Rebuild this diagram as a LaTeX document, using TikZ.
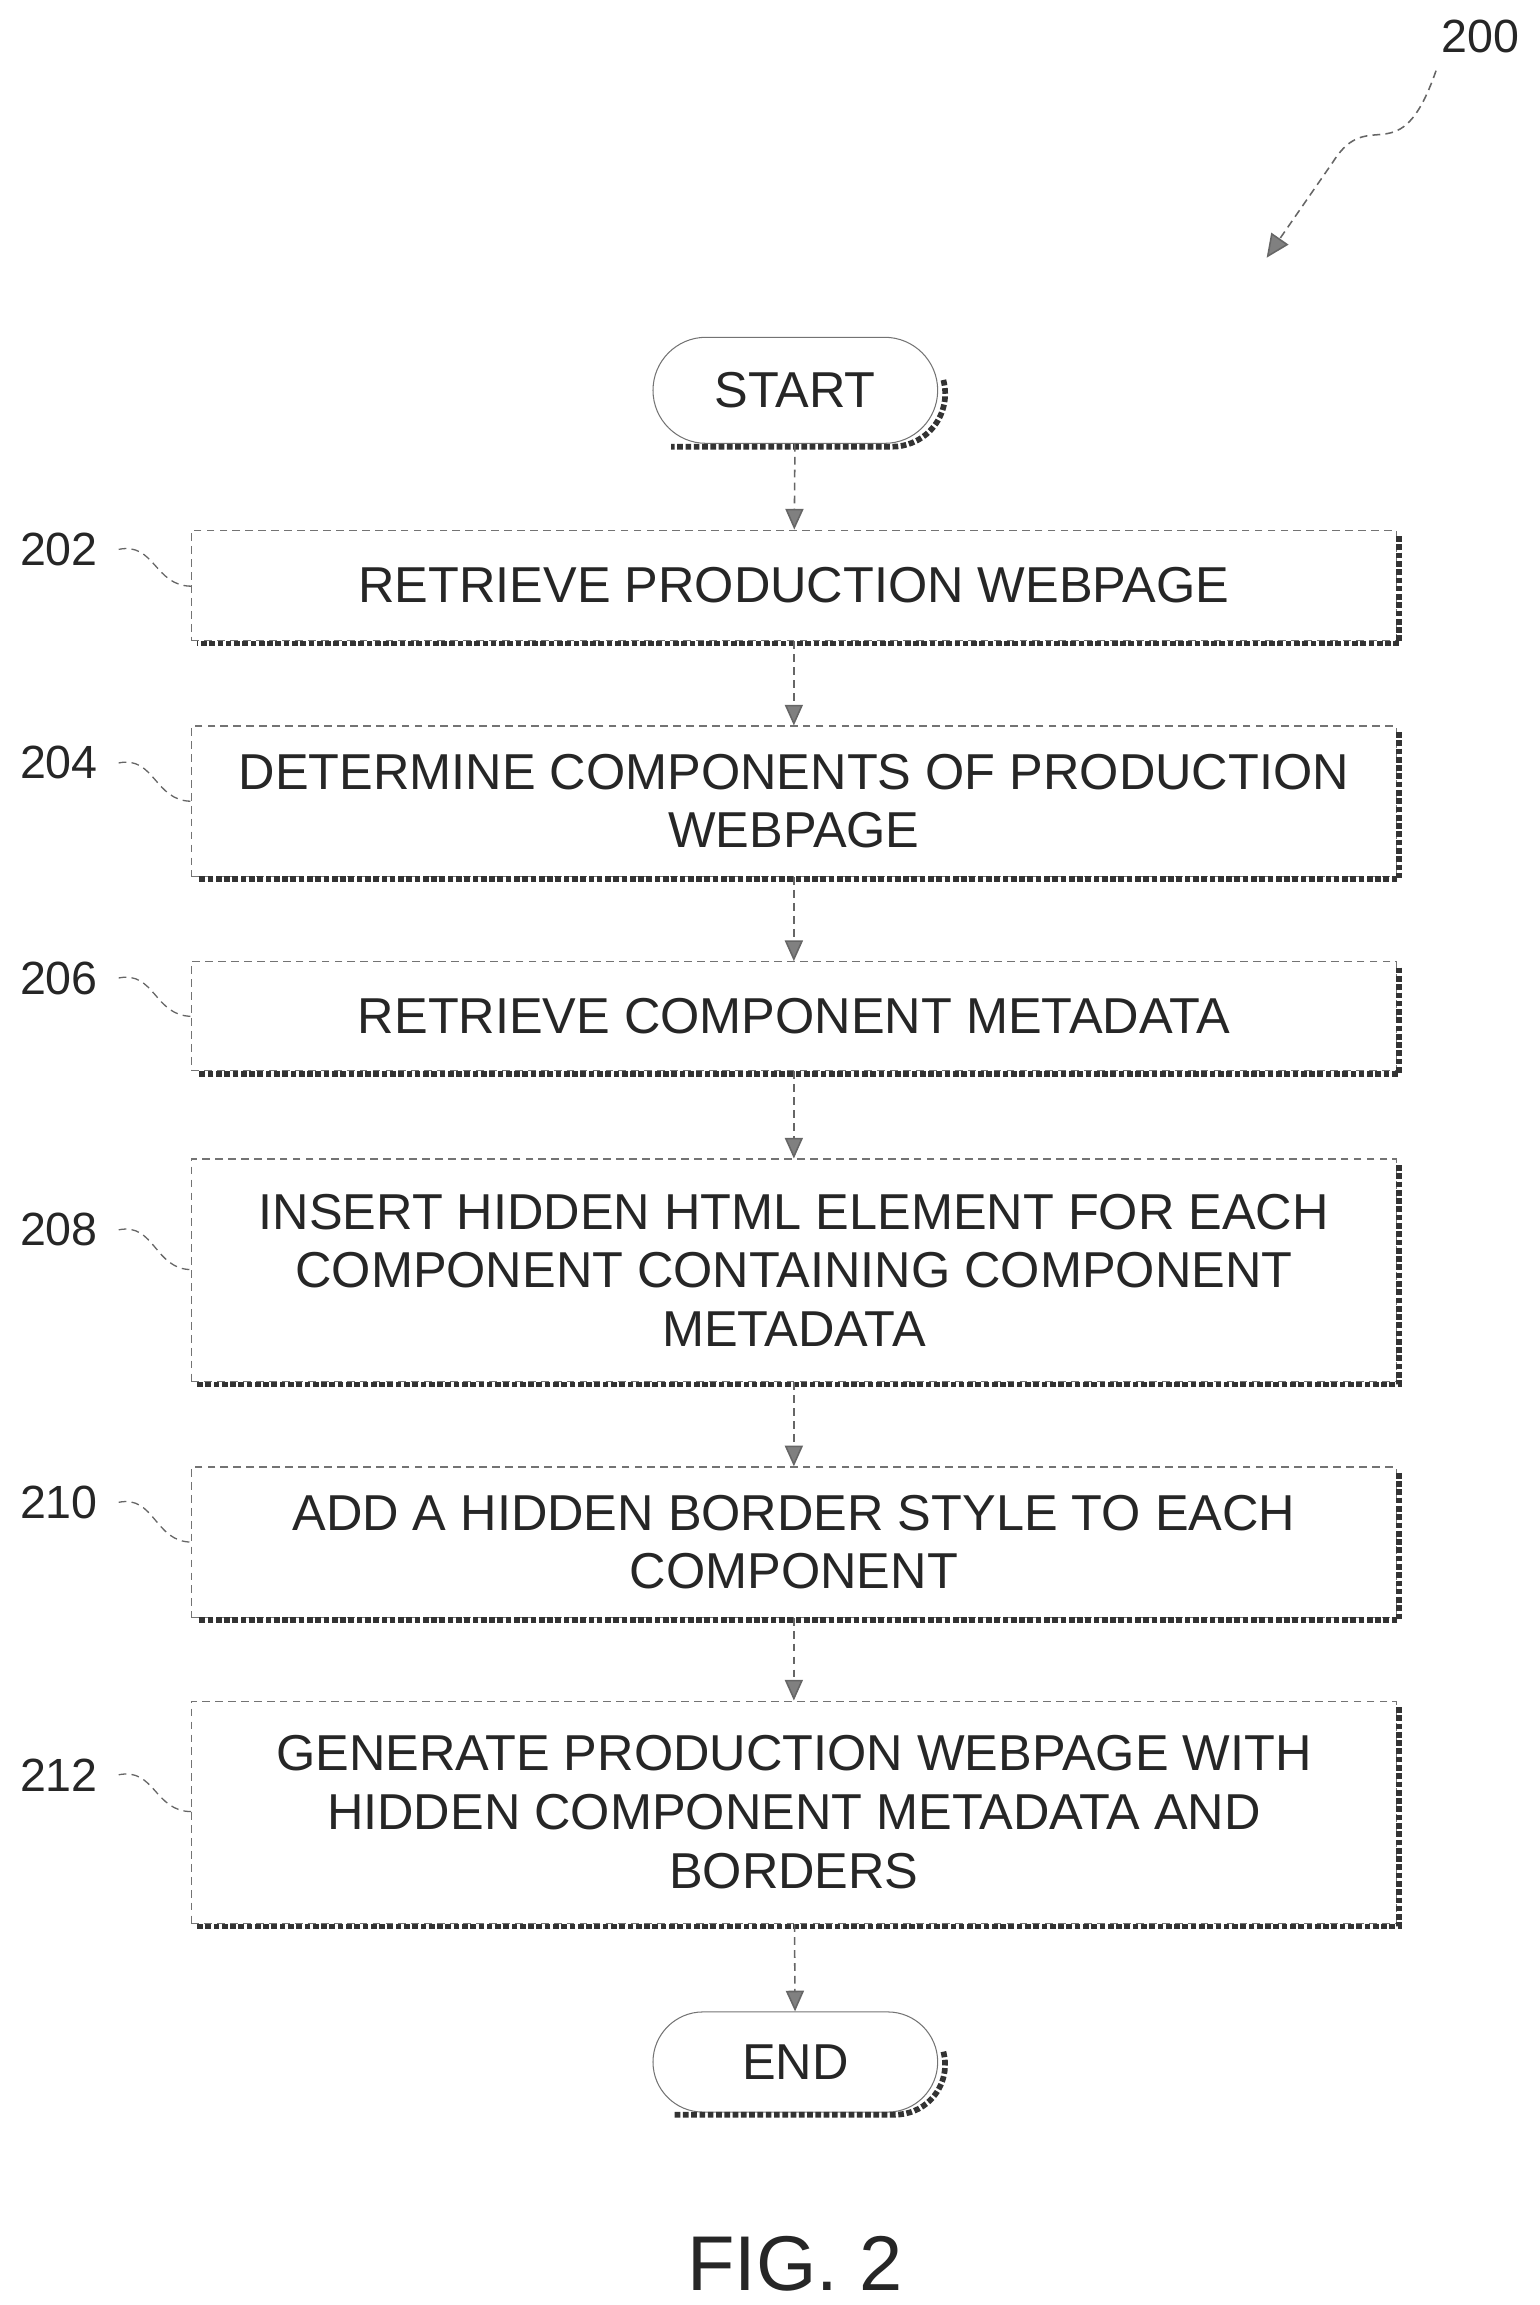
\documentclass[tikz,border=0pt]{standalone}
\usepackage{fontspec}
\setmainfont{Liberation Sans}
\usetikzlibrary{arrows.meta,shapes.misc,decorations.pathmorphing}
\begin{document}
\begin{tikzpicture}[x=0.02cm,y=-0.02cm,
  txt/.style={font=\fontsize{19.5}{22.7}\selectfont,text=black!85,align=center},
  stepbox/.style={txt,draw=black!55,densely dashed,line width=0.5pt,minimum width=818*0.02cm,inner sep=0pt},
  term/.style={txt,draw=black!55,rounded rectangle,minimum width=205*0.02cm,minimum height=72*0.02cm},
  shad/.style={line width=2.2pt,black!80,densely dotted},
  conn/.style={black!60,densely dashed,line width=0.6pt,-{Triangle[length=8pt,width=7pt,fill=black!50]}},
  lead/.style={black!60,densely dashed,line width=0.5pt},
  lbl/.style={font=\fontsize{18}{20}\selectfont,text=black!85}]
\useasboundingbox (0,0) rectangle (1045,1565);
\newcommand{\mybox}[4]{%
  \node[stepbox,minimum height=(#3-#2)*0.02cm] (#1) at (539,{(#2+#3)/2}) {#4};
  \draw[shad] (950,#2+4) -- (950,#3+2) -- (134,#3+2);}
\node[term] (start) at (540,265) {START};
\draw[shad] ([xshift=2pt,yshift=4pt]start.east) arc (15:-90:36*0.02cm) -- ++(-150*0.02cm,0);
\mybox{b202}{360}{435}{RETRIEVE PRODUCTION WEBPAGE}
\mybox{b204}{493}{595}{DETERMINE COMPONENTS OF PRODUCTION\\WEBPAGE}
\mybox{b206}{653}{727}{RETRIEVE COMPONENT METADATA}
\mybox{b208}{787}{938}{INSERT HIDDEN HTML ELEMENT FOR EACH\\COMPONENT CONTAINING COMPONENT\\METADATA}
\mybox{b210}{996}{1098}{ADD A HIDDEN BORDER STYLE TO EACH\\COMPONENT}
\mybox{b212}{1155}{1306}{GENERATE PRODUCTION WEBPAGE WITH\\HIDDEN COMPONENT METADATA AND\\BORDERS}
\node[term,minimum height=68*0.02cm] (end) at (540,1400) {END};
\draw[shad] ([xshift=2pt,yshift=4pt]end.east) arc (15:-90:34*0.02cm) -- ++(-150*0.02cm,0);
\draw[conn] (start) -- (b202);
\draw[conn] (b202) -- (b204);
\draw[conn] (b204) -- (b206);
\draw[conn] (b206) -- (b208);
\draw[conn] (b208) -- (b210);
\draw[conn] (b210) -- (b212);
\draw[conn] (b212) -- (end);
\foreach \n/\y/\ly in {202/398/373,204/544/518,206/690/664,208/862/835,210/1047/1020,212/1230/1205}{
  \node[lbl] (l\n) at (40,\ly) {\n};
  \coordinate (c\n) at (130,\y);
  \draw[lead] (l\n.east) ++(8,0) .. controls (105,\ly-5) and (105,\y) .. (c\n);
}
\node[lbl] (l200) at (1005,25) {200};
\coordinate (a200) at (860,175);
\draw[black!60,densely dashed,line width=0.6pt,-{Triangle[length=9pt,width=8pt,fill=black!50]}]
  (975,48) .. controls (950,120) and (930,70) .. (905,110) -- (a200);
\node[font=\fontsize{30}{32}\selectfont,text=black!85] (fig) at (540,1537) {FIG. 2};
\end{tikzpicture}
\end{document}
